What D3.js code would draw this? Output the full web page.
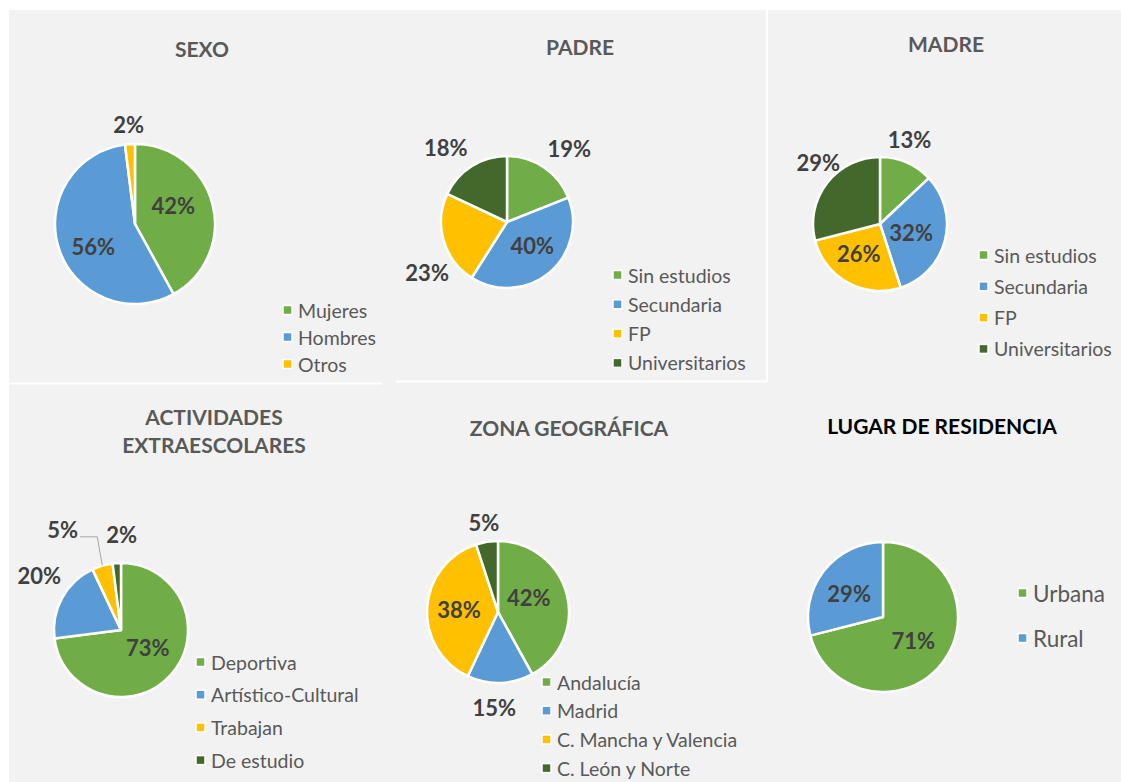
<!DOCTYPE html>
<html>
<head>
<meta charset="utf-8">
<script src="https://cdn.jsdelivr.net/npm/d3@7"></script>
<style>
  body { margin: 0; background: #fff; }
  svg { display: block; font-family: "Lato", "Open Sans", sans-serif; }
</style>
</head>
<body>
<div id="chart-area"></div>
<script>
// data (percentages)
const sexoCats = ["Mujeres", "Hombres", "Otros"];
const sexoVals = [42, 56, 2];

const estudiosCats = ["Sin estudios", "Secundaria", "FP", "Universitarios"];
const padreVals = [19, 40, 23, 18];
const madreVals = [13, 32, 26, 29];

const actCats = ["Deportiva", "Artístico-Cultural", "Trabajan", "De estudio"];
const actVals = [73, 20, 5, 2];

const zonaCats = ["Andalucía", "Madrid", "C. Mancha y Valencia", "C. León y Norte"];
const zonaVals = [42, 15, 38, 5];

const lugarCats = ["Urbana", "Rural"];
const lugarVals = [71, 29];

const palette = ["#70AD47", "#5B9BD5", "#FFC000", "#43682B"];

const width = 1121, height = 782;

const svg = d3.select("#chart-area")
  .append("svg")
    .attr("width", width)
    .attr("height", height);

// panel background + white seams between the pasted charts
svg.append("rect").attr("x", 9).attr("y", 10).attr("width", width - 9).attr("height", height - 10).attr("fill", "#F2F2F2");
svg.append("line").attr("x1", 0).attr("x2", 382).attr("y1", 383.5).attr("y2", 383.5).attr("stroke", "#fff").attr("stroke-width", 2);
svg.append("line").attr("x1", 396).attr("x2", 767).attr("y1", 381.5).attr("y2", 381.5).attr("stroke", "#fff").attr("stroke-width", 2);
svg.append("line").attr("x1", 767).attr("x2", 767).attr("y1", 10).attr("y2", 382).attr("stroke", "#fff").attr("stroke-width", 2);

// layout of each chart: centre, radius, title, legend, label placement [radius factor, angle shift in deg]
const charts = [
  { cats: sexoCats, vals: sexoVals, cx: 135, cy: 224, r: 80,
    title: ["SEXO"], tx: 202, ty: 48, tcol: "#595959",
    lg: { x: 283, y: 310, dy: 27, fs: 19.5 },
    labels: [[0.53, -11], [0.59, -10], [1.25, 0]] },
  { cats: estudiosCats, vals: padreVals, cx: 507, cy: 222, r: 66,
    title: ["PADRE"], tx: 580, ty: 46, tcol: "#595959",
    lg: { x: 613, y: 275, dy: 29.3, fs: 19.5 },
    labels: [[1.46, 6], [0.52, -8], [1.43, -16], [1.46, -7]] },
  { cats: estudiosCats, vals: madreVals, cx: 880, cy: 224, r: 67,
    title: ["MADRE"], tx: 946, ty: 43, tcol: "#595959",
    lg: { x: 979, y: 255, dy: 31.3, fs: 19.5 },
    labels: [[1.33, -4], [0.48, 0], [0.54, 7], [1.3, 7]] },
  { cats: actCats, vals: actVals, cx: 121, cy: 630, r: 67,
    title: ["ACTIVIDADES", "EXTRAESCOLARES"], tx: 214, ty: 416, tcol: "#595959",
    lg: { x: 196, y: 662, dy: 32.7, fs: 19.5 },
    labels: [[0.48, -8], [1.47, 5], [1.73, -14], [1.42, 4]], leader: 2 },
  { cats: zonaCats, vals: zonaVals, cx: 498, cy: 612, r: 71,
    title: ["ZONA GEOGRÁFICA"], tx: 569, ty: 427, tcol: "#595959",
    lg: { x: 542, y: 682, dy: 28.7, fs: 19.5 },
    labels: [[0.48, -11], [1.35, 4], [0.55, 0], [1.27, 0]] },
  { cats: lugarCats, vals: lugarVals, cx: 883, cy: 617, r: 75,
    title: ["LUGAR DE RESIDENCIA"], tx: 942, ty: 425, tcol: "#000000",
    lg: { x: 1018, y: 593, dy: 45, fs: 22.5 },
    labels: [[0.51, 0], [0.55, -3]] }
];

const pie = d3.pie().sort(null).value(d => d);

charts.forEach(function(c) {
  const color = d3.scaleOrdinal().domain(c.cats).range(palette);
  const arcs = pie(c.vals);
  const arc = d3.arc().innerRadius(0).outerRadius(c.r);

  // title
  const t = svg.append("text")
    .attr("x", c.tx).attr("y", c.ty)
    .attr("text-anchor", "middle")
    .attr("dominant-baseline", "central")
    .attr("font-size", "21px")
    .attr("font-weight", "bold")
    .attr("fill", c.tcol);
  c.title.forEach(function(line, i) {
    t.append("tspan").attr("x", c.tx).attr("dy", i === 0 ? 0 : 28).text(line);
  });

  const g = svg.append("g").attr("transform", "translate(" + c.cx + "," + c.cy + ")");

  g.selectAll("path")
    .data(arcs)
    .enter().append("path")
      .attr("d", arc)
      .attr("fill", (d, i) => color(c.cats[i]))
      .attr("stroke", "#fff")
      .attr("stroke-width", 2.5)
      .attr("stroke-linejoin", "round");

  // data labels
  const lab = g.selectAll("text.lab")
    .data(arcs)
    .enter().append("text")
      .attr("class", "lab")
      .attr("x", (d, i) => {
        const a = (d.startAngle + d.endAngle) / 2 + c.labels[i][1] * Math.PI / 180;
        return c.labels[i][0] * c.r * Math.sin(a);
      })
      .attr("y", (d, i) => {
        const a = (d.startAngle + d.endAngle) / 2 + c.labels[i][1] * Math.PI / 180;
        return -c.labels[i][0] * c.r * Math.cos(a);
      })
      .attr("text-anchor", "middle")
      .attr("dominant-baseline", "central")
      .attr("font-size", "22px")
      .attr("font-weight", "bold")
      .attr("fill", "#404040")
      .text(d => d3.format(".0f")(d.value) + "%");

  // leader line for the crowded small slice
  if (c.leader !== undefined) {
    const d = arcs[c.leader];
    const node = lab.nodes()[c.leader];
    const bb = node.getBBox();
    const a = (d.startAngle + d.endAngle) / 2;
    const sx = c.r * Math.sin(a), sy = -c.r * Math.cos(a);
    const ly = bb.y + bb.height / 2 + 7;
    g.append("polyline")
      .attr("points", [[sx, sy], [sx - 5, ly], [bb.x + bb.width + 2, ly]].map(p => p.join(",")).join(" "))
      .attr("fill", "none")
      .attr("stroke", "#A6A6A6")
      .attr("stroke-width", 1);
  }

  // legend
  const lg = svg.append("g");
  const item = lg.selectAll("g")
    .data(c.cats)
    .enter().append("g")
      .attr("transform", (d, i) => "translate(" + c.lg.x + "," + (c.lg.y + i * c.lg.dy) + ")");
  item.append("rect")
    .attr("x", 0).attr("y", -4.5)
    .attr("width", 9).attr("height", 9)
    .attr("fill", d => color(d))
    .attr("stroke", "#fff")
    .attr("stroke-width", 1.5);
  item.append("text")
    .attr("x", 15).attr("y", 0)
    .attr("dominant-baseline", "central")
    .attr("font-size", c.lg.fs + "px")
    .attr("fill", "#595959")
    .text(d => d);
});
</script>
</body>
</html>
